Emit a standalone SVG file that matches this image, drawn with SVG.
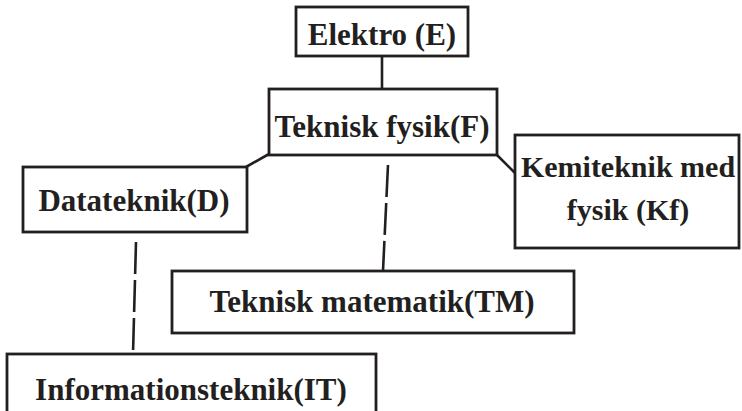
<svg xmlns="http://www.w3.org/2000/svg" width="742" height="411" viewBox="0 0 742 411">
<style>
.box{fill:#fff;stroke:#231f20;stroke-width:2.8}
.lbl{font-family:"Liberation Serif","Times New Roman",serif;font-weight:bold;font-size:31px;fill:#231f20;text-anchor:middle}
.sm{font-size:30px}
.con{stroke:#231f20;stroke-width:2.6;fill:none}
.dash{stroke-dasharray:32 6}
</style>
<rect width="742" height="411" fill="#fff"/>
<g id="connectors">
<line class="con" x1="382" y1="56" x2="382" y2="89"/>
<line class="con" x1="269" y1="154" x2="246" y2="167"/>
<line class="con" x1="497" y1="155" x2="515" y2="173"/>
<line class="con dash" x1="388" y1="165" x2="383" y2="271"/>
<line class="con dash" x1="136" y1="242" x2="133" y2="354"/>
</g>
<g id="node-E">
<rect class="box" x="296" y="7" width="172" height="49"/>
<text class="lbl" x="382" y="45">Elektro (E)</text>
</g>
<g id="node-F">
<rect class="box" x="269" y="89" width="228" height="66"/>
<text class="lbl" x="382" y="137">Teknisk fysik(F)</text>
</g>
<g id="node-D">
<rect class="box" x="23" y="167" width="224" height="65"/>
<text class="lbl" x="134" y="211">Datateknik(D)</text>
</g>
<g id="node-Kf">
<rect class="box" x="515" y="135" width="224" height="113"/>
<text class="lbl sm" x="628" y="177">Kemiteknik med</text>
<text class="lbl sm" x="628" y="220">fysik (Kf)</text>
</g>
<g id="node-TM">
<rect class="box" x="172" y="271" width="402" height="62"/>
<text class="lbl" x="372" y="312">Teknisk matematik(TM)</text>
</g>
<g id="node-IT">
<rect class="box" x="7" y="354" width="369" height="70"/>
<text class="lbl" x="191" y="400">Informationsteknik(IT)</text>
</g>
</svg>
